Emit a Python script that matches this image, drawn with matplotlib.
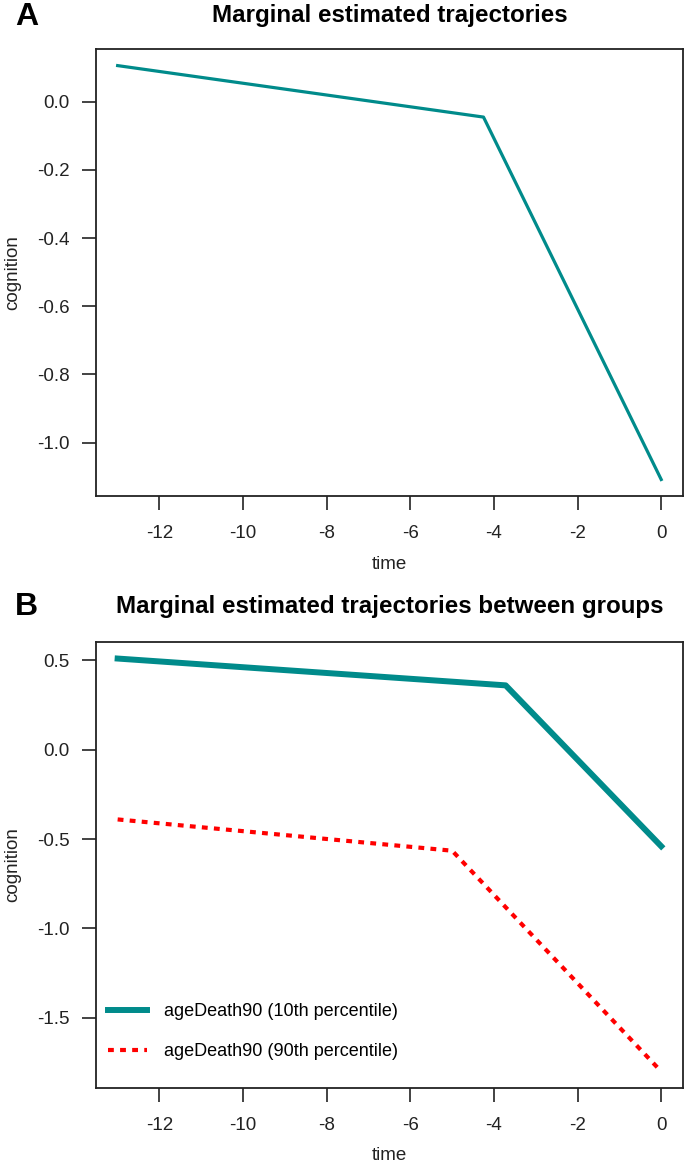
import numpy as np
import matplotlib.pyplot as plt

plt.rcParams['font.family'] = ['Liberation Sans', 'DejaVu Sans']

# Panel A: marginal trajectory (piecewise linear, one change point)
time_a = [-13, -4.25, 0]
cog_a = [0.106, -0.045, -1.108]

# Panel B: trajectories by group
time_b10 = [-13, -3.72, 0]
cog_b10 = [0.51, 0.36, -0.54]
time_b90 = [-13, -5.0, 0]
cog_b90 = [-0.39, -0.565, -1.80]
labels_b = ["ageDeath90 (10th percentile)", "ageDeath90 (90th percentile)"]

xticks = [-12, -10, -8, -6, -4, -2, 0]
yticks_a = [0.0, -0.2, -0.4, -0.6, -0.8, -1.0]
yticks_b = [0.5, 0.0, -0.5, -1.0, -1.5]

teal = "#008B8B"
ink = "#222222"

fig = plt.figure(figsize=(6.85, 11.65), dpi=100)
ax1 = fig.add_axes([0.140, 0.5742, 0.857, 0.3837])
ax2 = fig.add_axes([0.140, 0.0661, 0.857, 0.3828])


def style(ax, yticks):
    ax.margins(x=0.04, y=0.04)
    ax.set_xticks(xticks)
    ax.set_xticklabels([str(t) for t in xticks])
    ax.set_yticks(yticks)
    ax.set_yticklabels(["%.1f" % t for t in yticks])
    ax.tick_params(direction='out', length=10, width=1.2, labelsize=13.5,
                   color=ink, labelcolor=ink)
    ax.tick_params(axis='x', pad=11)
    ax.tick_params(axis='y', pad=9)
    for s in ax.spines.values():
        s.set_linewidth(1.3)
        s.set_color(ink)
    ax.set_xlabel("time", fontsize=13.5, color=ink)
    ax.set_ylabel("cognition", fontsize=13.5, color=ink)
    ax.xaxis.set_label_coords(0.5, -0.133)
    ax.yaxis.set_label_coords(-0.128, 0.5)


ax1.plot(time_a, cog_a, color=teal, lw=2.3, solid_joinstyle='round')
style(ax1, yticks_a)
fig.text(0.5686, 0.9871, "Marginal estimated trajectories", fontsize=17.4,
         fontweight='bold', ha='center', va='center')
fig.text(0.022, 0.9854, "A", fontsize=23, fontweight='bold', va='center')

ax2.plot(time_b10, cog_b10, color=teal, lw=4.3, label=labels_b[0])
ax2.plot(time_b90, cog_b90, color='red', lw=3, linestyle=(0, (1.4, 1.5)),
         label=labels_b[1])
style(ax2, yticks_b)
fig.text(0.5686, 0.479, "Marginal estimated trajectories between groups",
         fontsize=17.4, fontweight='bold', ha='center', va='center')
fig.text(0.022, 0.479, "B", fontsize=23, fontweight='bold', va='center')
ax2.legend(loc='upper left', bbox_to_anchor=(0.02, 0.19), frameon=False,
           fontsize=13, handlelength=2.2, handletextpad=0.9,
           labelspacing=1.25, borderpad=0, borderaxespad=0)

fig.savefig("out.png", dpi=100)
